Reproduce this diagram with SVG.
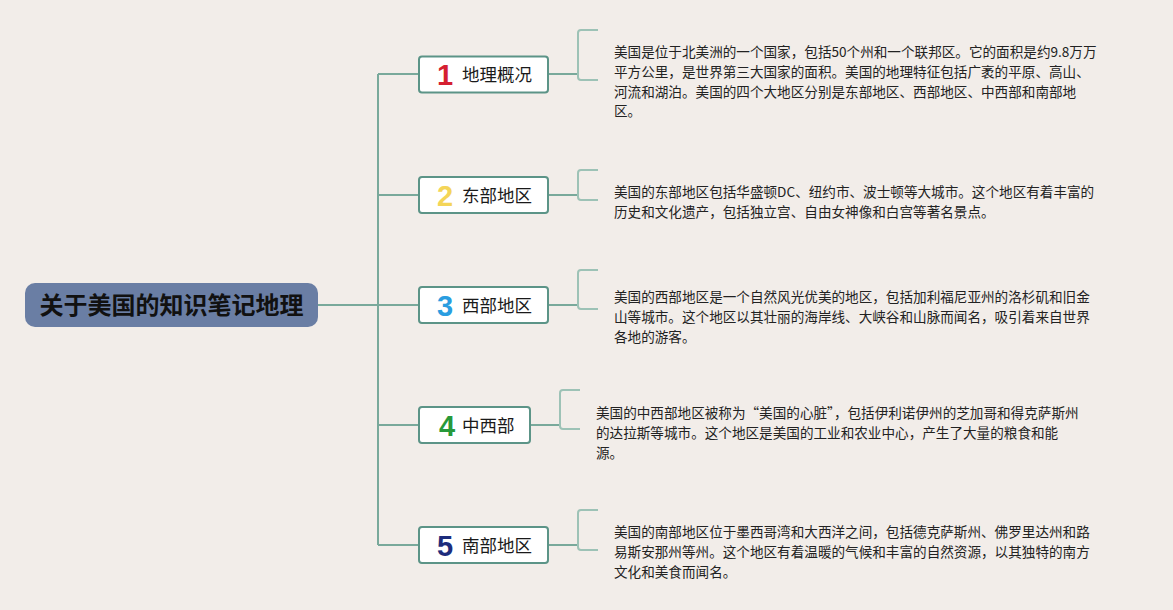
<svg xmlns="http://www.w3.org/2000/svg" width="1173" height="610" viewBox="0 0 1173 610">
<style>
.conn{fill:none;stroke:#79a99b;stroke-width:2}
.br{fill:none;stroke:#9dc2b6;stroke-width:2}
.box{fill:#ffffff;stroke:#5c9487;stroke-width:2}
.num{font-family:"Liberation Sans",Arial,sans-serif;font-weight:bold;font-size:29px}
.lbl{font-family:"Noto Sans CJK SC","Noto Sans",sans-serif;font-size:17.5px;fill:#1a1a1a}
.txt{font-family:"Noto Sans CJK SC","Noto Sans",sans-serif;font-size:13.6px;fill:#222}
</style>
<rect width="1173" height="610" fill="#f2ede9"/>
<g id="connectors">
<path class="conn" d="M318,305 H378 M378,74 V545 M378,74 H419 M378,195 H419 M378,305 H419 M378,425 H419 M378,545 H419"/>
<path class="conn" d="M548,74 H578 M548,195 H578 M548,305 H578 M530,425 H560 M548,545 H578"/>
<path class="br" d="M598,30 H581 Q578,30 578,33 V77 Q578,80 581,80 H598"/>
<path class="br" d="M598,170 H581 Q578,170 578,173 V197 Q578,200 581,200 H598"/>
<path class="br" d="M598,270 H581 Q578,270 578,273 V306 Q578,309 581,309 H598"/>
<path class="br" d="M580,390 H563 Q560,390 560,393 V426 Q560,429 563,429 H580"/>
<path class="br" d="M598,510 H581 Q578,510 578,513 V547 Q578,550 581,550 H598"/>
</g>
<g id="root">
<rect x="25" y="283" width="293" height="44" rx="10" fill="#6a7ea4"/>
<text x="171.5" y="313.5" text-anchor="middle" font-family="'Noto Sans CJK SC',sans-serif" font-weight="bold" font-size="24" fill="#111">关于美国的知识笔记地理</text>
</g>
<g id="node1">
<rect class="box" x="419" y="56.5" width="129" height="36" rx="3"/>
<text class="num" x="445" y="85" text-anchor="middle" fill="#d51f31">1</text>
<text class="lbl" x="462" y="81">地理概况</text>
<text class="txt"><tspan x="614" y="56.5">美国是位于北美洲的一个国家，包括50个州和一个联邦区。它的面积是约9.8万万</tspan><tspan x="614" y="76.5">平方公里，是世界第三大国家的面积。美国的地理特征包括广袤的平原、高山、</tspan><tspan x="614" y="96.5">河流和湖泊。美国的四个大地区分别是东部地区、西部地区、中西部和南部地</tspan><tspan x="614" y="116">区。</tspan></text>
</g>
<g id="node2">
<rect class="box" x="419" y="177" width="129" height="36" rx="3"/>
<text class="num" x="445" y="206" text-anchor="middle" fill="#f4d558">2</text>
<text class="lbl" x="462" y="202">东部地区</text>
<text class="txt"><tspan x="614" y="196.5">美国的东部地区包括华盛顿DC、纽约市、波士顿等大城市。这个地区有着丰富的</tspan><tspan x="614" y="216.5">历史和文化遗产，包括独立宫、自由女神像和白宫等著名景点。</tspan></text>
</g>
<g id="node3">
<rect class="box" x="419" y="287" width="129" height="36" rx="3"/>
<text class="num" x="445" y="316" text-anchor="middle" fill="#2a9de0">3</text>
<text class="lbl" x="462" y="312">西部地区</text>
<text class="txt"><tspan x="614" y="301.5">美国的西部地区是一个自然风光优美的地区，包括加利福尼亚州的洛杉矶和旧金</tspan><tspan x="614" y="321.5">山等城市。这个地区以其壮丽的海岸线、大峡谷和山脉而闻名，吸引着来自世界</tspan><tspan x="614" y="341.5">各地的游客。</tspan></text>
</g>
<g id="node4">
<rect class="box" x="419" y="407" width="111" height="36" rx="3"/>
<text class="num" x="447" y="436" text-anchor="middle" fill="#27993a">4</text>
<text class="lbl" x="462" y="432">中西部</text>
<text class="txt"><tspan x="596" y="417.5">美国的中西部地区被称为“美国的心脏”，包括伊利诺伊州的芝加哥和得克萨斯州</tspan><tspan x="596" y="437.5">的达拉斯等城市。这个地区是美国的工业和农业中心，产生了大量的粮食和能</tspan><tspan x="596" y="457.5">源。</tspan></text>
</g>
<g id="node5">
<rect class="box" x="419" y="527" width="129" height="36" rx="3"/>
<text class="num" x="445" y="556" text-anchor="middle" fill="#1d2c7c">5</text>
<text class="lbl" x="462" y="552">南部地区</text>
<text class="txt"><tspan x="614" y="536.5">美国的南部地区位于墨西哥湾和大西洋之间，包括德克萨斯州、佛罗里达州和路</tspan><tspan x="614" y="556.5">易斯安那州等州。这个地区有着温暖的气候和丰富的自然资源，以其独特的南方</tspan><tspan x="614" y="576.5">文化和美食而闻名。</tspan></text>
</g>
</svg>
